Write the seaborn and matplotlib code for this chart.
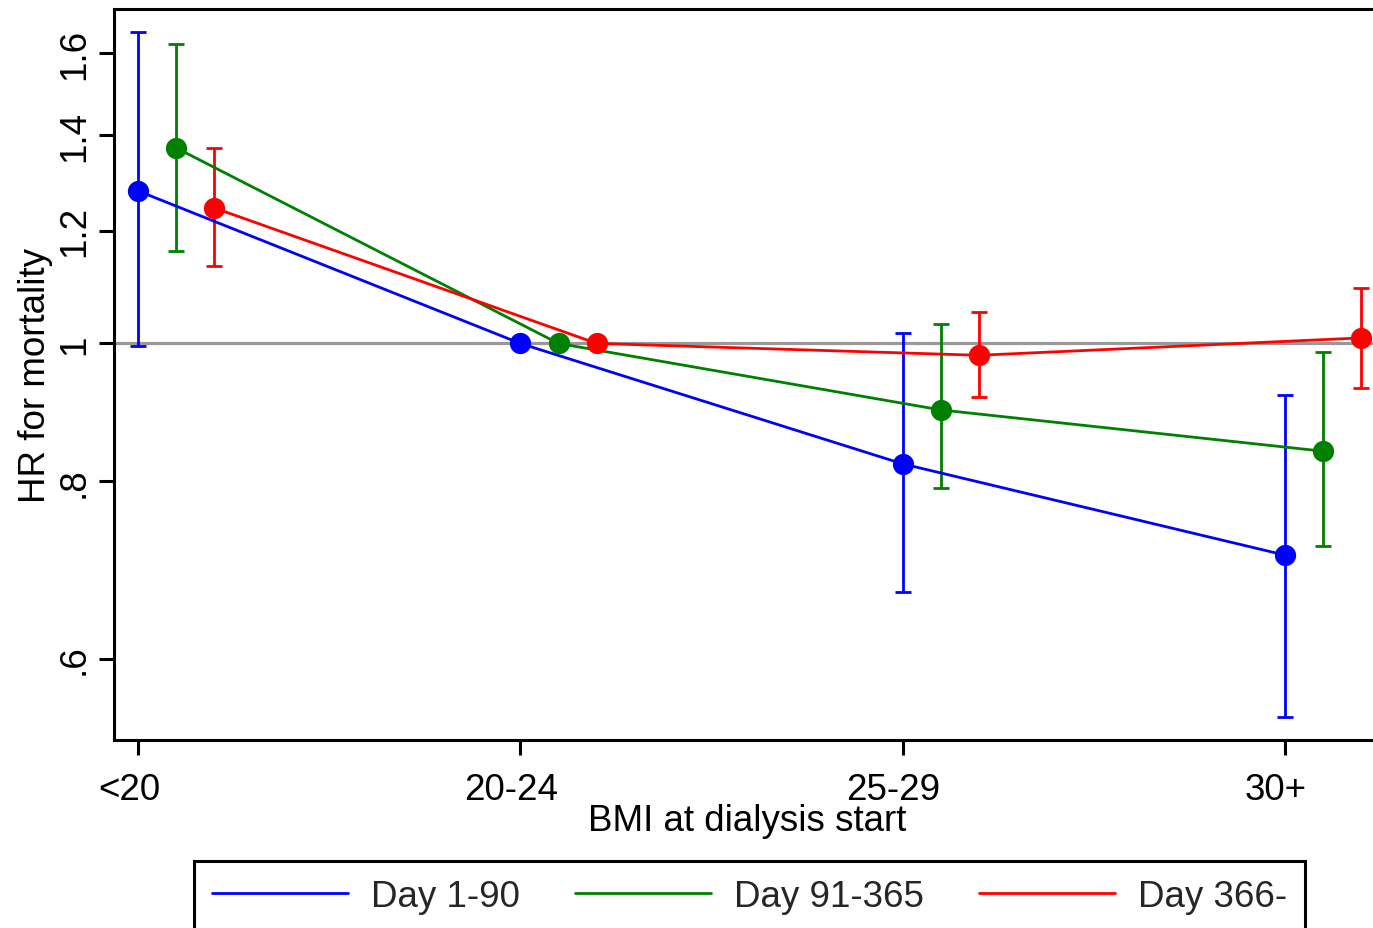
import numpy as np
import pandas as pd
import matplotlib
matplotlib.use("Agg")
import matplotlib.pyplot as plt
import matplotlib.transforms as mtransforms
from matplotlib.lines import Line2D
import seaborn as sns

# ---- data ----
categories = ['<20', '20-24', '25-29', '30+']
periods = ['Day 1-90', 'Day 91-365', 'Day 366-']

hr_d1 = [1.280, 1.000, 0.823, 0.710]
lo_d1 = [0.996, np.nan, 0.669, 0.546]
hi_d1 = [1.655, np.nan, 1.017, 0.920]

hr_d2 = [1.372, 1.000, 0.898, 0.840]
lo_d2 = [1.161, np.nan, 0.791, 0.720]
hi_d2 = [1.623, np.nan, 1.032, 0.986]

hr_d3 = [1.245, 1.000, 0.981, 1.009]
lo_d3 = [1.133, np.nan, 0.917, 0.930]
hi_d3 = [1.372, np.nan, 1.052, 1.094]

ytick_vals = [0.6, 0.8, 1.0, 1.2, 1.4, 1.6]
ytick_labels = ['.6', '.8', '1', '1.2', '1.4', '1.6']

colors = ['#0000FF', '#008000', '#FF0000']
dodge = [0.0, 0.1, 0.2]

series = [(hr_d1, lo_d1, hi_d1), (hr_d2, lo_d2, hi_d2), (hr_d3, lo_d3, hi_d3)]
rows = []
for p, (hr, lo, hi), d in zip(periods, series, dodge):
    for i, c in enumerate(categories):
        rows.append(dict(period=p, cat=c, pos=i + d, hr=hr[i], lo=lo[i], hi=hi[i]))
df = pd.DataFrame(rows)

# ---- plot ----
sns.set_theme(style="white")
plt.rcParams['font.family'] = ['Liberation Sans', 'DejaVu Sans']

fig = plt.figure(figsize=(13.73, 9.29), dpi=100)
ax = fig.add_axes([114 / 1373, 1 - 741 / 929, 1266 / 1373, (741 - 10) / 929])

ax.axhline(1.0, color='#999999', lw=2.3, zorder=1)

for p, col in zip(periods, colors):
    sub = df[(df.period == p) & df.lo.notna()]
    ax.errorbar(sub.pos, sub.hr, yerr=[sub.hr - sub.lo, sub.hi - sub.hr],
                fmt='none', ecolor=col, elinewidth=2.0, capsize=5.5, capthick=2.0, zorder=2)

sns.lineplot(data=df, x='pos', y='hr', hue='period', palette=colors, hue_order=periods,
             marker='o', markersize=15.3, markeredgewidth=0, linewidth=2.0,
             sort=False, legend=False, ax=ax, zorder=3)

ax.set_yscale('log')
ax.set_ylim(0.5264, 1.718)
ax.set_xlim(-0.0628, 3.249)
ax.yaxis.set_minor_locator(matplotlib.ticker.NullLocator())
ax.set_yticks(ytick_vals)
ax.set_yticklabels(ytick_labels)
ax.set_xticks(range(len(categories)))
ax.set_xticklabels(categories)

for lab in ax.get_yticklabels():
    lab.set_rotation(90)
    lab.set_va('center')

ax.tick_params(axis='both', which='major', length=11, width=2.2, color='black',
               labelsize=26.5, labelcolor='black', direction='out', bottom=True, left=True)
ax.tick_params(axis='y', pad=5)
ax.tick_params(axis='x', pad=12)

offset = mtransforms.ScaledTranslation(-9 / 100, 0, fig.dpi_scale_trans)
for lab in ax.get_xticklabels():
    lab.set_transform(lab.get_transform() + offset)

for s in ax.spines.values():
    s.set_color('black')
    s.set_linewidth(2.2)

ax.set_xlabel('BMI at dialysis start', fontsize=26.5, color='black', labelpad=-3)
ax.set_ylabel('HR for mortality', fontsize=26.5, color='black', labelpad=3)

handles = [Line2D([0], [0], color=c, lw=2.0) for c in colors]
leg = fig.legend(handles, periods, loc='upper center', ncol=3,
                 bbox_to_anchor=(749.5 / 1373, 1 - 861.5 / 929),
                 fontsize=26.5, frameon=True, fancybox=False, edgecolor='black',
                 framealpha=1.0, facecolor='white',
                 handlelength=3.7, handletextpad=0.62, columnspacing=1.49,
                 borderpad=0.5, borderaxespad=0)
leg.get_frame().set_linewidth(2.2)

fig.savefig('out.png', dpi=100)
